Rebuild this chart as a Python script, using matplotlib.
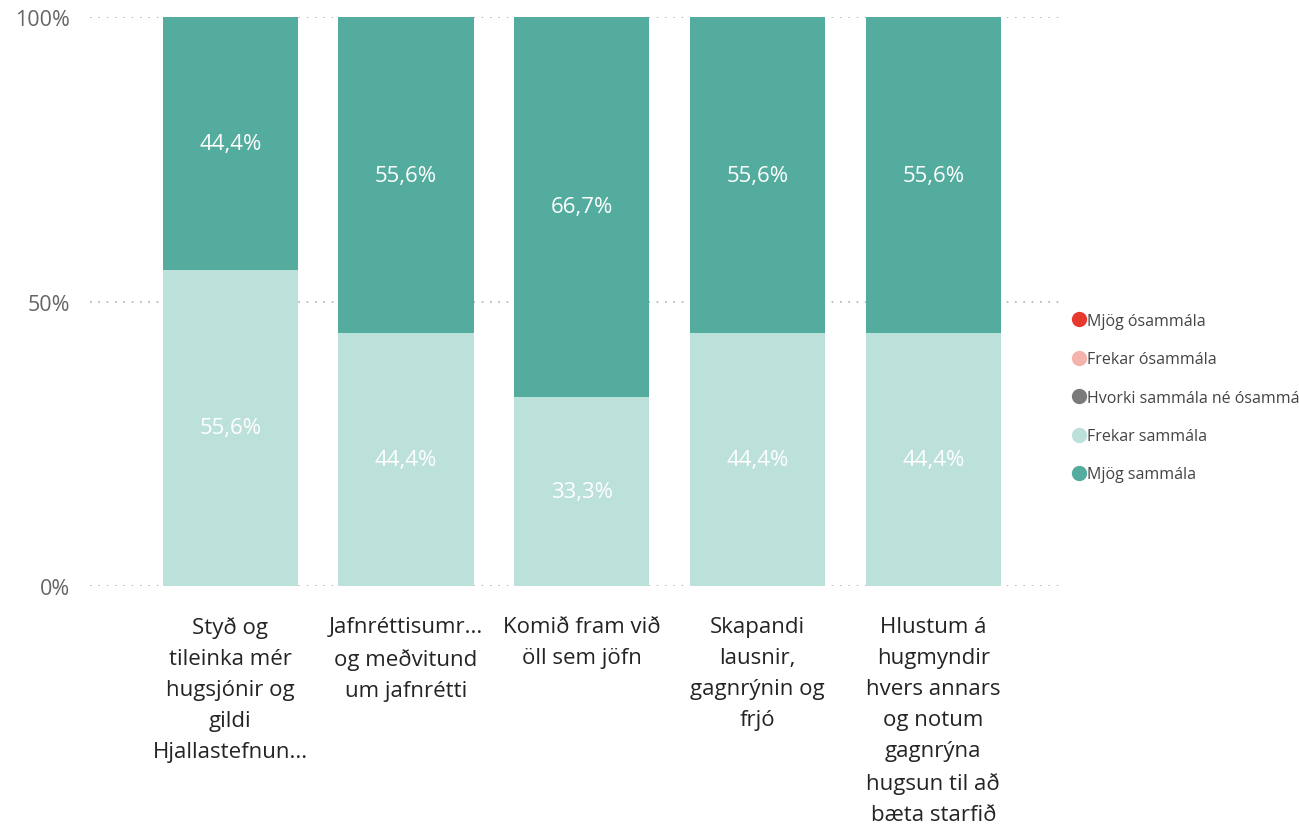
import matplotlib.pyplot as plt
import numpy as np
from matplotlib.lines import Line2D

plt.rcParams['font.family'] = ['Open Sans', 'DejaVu Sans']

categories = [
    "Styð og\ntileinka mér\nhugsjónir og\ngildi\nHjallastefnun...",
    "Jafnréttisumr...\nog meðvitund\num jafnrétti",
    "Komið fram við\nöll sem jöfn",
    "Skapandi\nlausnir,\ngagnrýnin og\nfrjó",
    "Hlustum á\nhugmyndir\nhvers annars\nog notum\ngagnrýna\nhugsun til að\nbæta starfið",
]
frekar_sammala = [55.6, 44.4, 33.3, 44.4, 44.4]
mjog_sammala = [44.4, 55.6, 66.7, 55.6, 55.6]

legend_labels = ["Mjög ósammála", "Frekar ósammála", "Hvorki sammála né ósammála",
                 "Frekar sammála", "Mjög sammála"]
legend_colors = ["#E8392F", "#F5B3AE", "#7A7A7A", "#BCE0DA", "#53AC9E"]

fig = plt.figure(figsize=(12.99, 8.29), dpi=100)
ax = fig.add_axes([0.069, 0.292, 0.751, 0.686])

x = np.arange(len(categories))
w = 0.77
ax.bar(x, frekar_sammala, w, color="#BCE0DA")
ax.bar(x, mjog_sammala, w, bottom=frekar_sammala, color="#53AC9E")

for i in range(len(x)):
    ax.text(x[i], frekar_sammala[i] / 2, f"{frekar_sammala[i]:.1f}%".replace(".", ","),
            ha="center", va="center", color="white", fontsize=16)
    ax.text(x[i], frekar_sammala[i] + mjog_sammala[i] / 2, f"{mjog_sammala[i]:.1f}%".replace(".", ","),
            ha="center", va="center", color="white", fontsize=16)

ax.set_xlim(-0.8, 4.75)
ax.set_ylim(0, 100)
ax.set_yticks([0, 50, 100])
ax.set_yticklabels(["0%", "50%", "100%"])
for y in [0, 50, 100]:
    ax.axhline(y, color="#B0B0B0", linestyle=(0, (1, 4)), linewidth=1.2, zorder=0)

ax.set_xticks(x)
ax.set_xticklabels(categories, fontsize=16, color="#252423", linespacing=1.62, va="top")
ax.tick_params(axis="x", length=0, pad=22)
ax.tick_params(axis="y", length=0, labelsize=15.5, labelcolor="#666666", pad=14)
for s in ax.spines.values():
    s.set_visible(False)

handles = [Line2D([0], [0], marker="o", linestyle="", markersize=10,
                  markerfacecolor=c, markeredgecolor=c) for c in legend_colors]
fig.legend(handles, legend_labels, loc="center left", bbox_to_anchor=(0.812, 0.519),
           frameon=False, fontsize=11.5, labelcolor="#444444", handletextpad=-0.1,
           labelspacing=1.4, handlelength=1.2)

fig.savefig("out.png", dpi=100)
